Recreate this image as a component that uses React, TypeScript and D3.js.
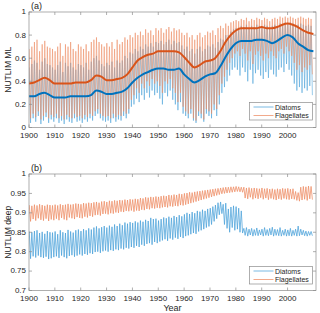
import React from "react";
import * as d3 from "d3";

// ---------- DATA ----------
const startYear = 1900;
const xTicks = [1900, 1910, 1920, 1930, 1940, 1950, 1960, 1970, 1980, 1990, 2000];
const yTicksA = [0, 0.2, 0.4, 0.6, 0.8, 1];
const yTicksB = [0.7, 0.75, 0.8, 0.85, 0.9, 0.95, 1];
const seriesNames = ["Diatoms", "Flagellates"];

// Panel (a): annual max / min of monthly NUTLIM ML (1900..2009)
const diaMaxA = [
  0.52, 0.55, 0.58, 0.56, 0.5, 0.57, 0.6, 0.55, 0.54, 0.52,
  0.5, 0.54, 0.57, 0.48, 0.56, 0.53, 0.56, 0.52, 0.5, 0.55,
  0.54, 0.52, 0.56, 0.5, 0.57, 0.6, 0.62, 0.58, 0.55, 0.53,
  0.56, 0.54, 0.57, 0.52, 0.58, 0.56, 0.58, 0.62, 0.6, 0.65,
  0.64, 0.68, 0.66, 0.7, 0.68, 0.72, 0.7, 0.73, 0.7, 0.74,
  0.73, 0.75, 0.72, 0.74, 0.76, 0.72, 0.75, 0.73, 0.74, 0.71,
  0.68, 0.7, 0.66, 0.68, 0.64, 0.68, 0.7, 0.66, 0.68, 0.71,
  0.7, 0.72, 0.69, 0.74, 0.77, 0.76, 0.8, 0.8, 0.83, 0.85,
  0.86, 0.85, 0.88, 0.87, 0.89, 0.86, 0.88, 0.87, 0.89, 0.88,
  0.87, 0.89, 0.88, 0.86, 0.88, 0.89, 0.88, 0.9, 0.89, 0.91,
  0.9, 0.91, 0.9, 0.88, 0.89, 0.9, 0.89, 0.88, 0.89, 0.88,
];
const diaMinA = [
  0.04, 0.08, 0.05, 0.1, 0.03, 0.06, 0.09, 0.04, 0.07, 0.05,
  0.08, 0.04, 0.06, 0.03, 0.07, 0.05, 0.04, 0.08, 0.05, 0.06,
  0.04, 0.07, 0.05, 0.08, 0.06, 0.1, 0.12, 0.08, 0.06, 0.05,
  0.06, 0.04, 0.08, 0.05, 0.07, 0.06, 0.1, 0.08, 0.12, 0.18,
  0.2, 0.25, 0.22, 0.28, 0.24, 0.3, 0.26, 0.32, 0.28, 0.3,
  0.25, 0.2, 0.3, 0.27, 0.32, 0.24, 0.2, 0.15, 0.22, 0.12,
  0.1, 0.08, 0.12, 0.06, 0.04, 0.1, 0.08, 0.05, 0.12, 0.1,
  0.08, 0.15, 0.1, 0.2, 0.3, 0.35, 0.4, 0.45, 0.5, 0.52,
  0.5, 0.45, 0.52, 0.48, 0.4, 0.5, 0.38, 0.47, 0.5, 0.45,
  0.42, 0.48, 0.43, 0.5, 0.46, 0.44, 0.5, 0.52, 0.48, 0.55,
  0.5, 0.45, 0.38, 0.32, 0.35, 0.3, 0.34, 0.32, 0.36, 0.28,
];
const flagMaxA = [
  0.68, 0.7, 0.74, 0.76, 0.66, 0.72, 0.75, 0.7, 0.69, 0.68,
  0.66, 0.7, 0.73, 0.62, 0.72, 0.7, 0.74, 0.68, 0.66, 0.72,
  0.7, 0.68, 0.72, 0.66, 0.74, 0.76, 0.78, 0.74, 0.72, 0.7,
  0.73, 0.7, 0.74, 0.68, 0.76, 0.72, 0.74, 0.78, 0.76, 0.8,
  0.78, 0.82, 0.8, 0.83, 0.8, 0.85, 0.82, 0.84, 0.8, 0.86,
  0.84, 0.86, 0.82, 0.85, 0.87, 0.83, 0.86, 0.84, 0.85, 0.82,
  0.8, 0.82, 0.78, 0.8, 0.76, 0.8, 0.82, 0.78, 0.8, 0.83,
  0.82, 0.84, 0.8, 0.86, 0.88, 0.86, 0.9, 0.88, 0.91, 0.92,
  0.93, 0.92, 0.94, 0.93, 0.95, 0.92, 0.94, 0.93, 0.95, 0.94,
  0.93, 0.95, 0.94, 0.92, 0.94, 0.95, 0.94, 0.96, 0.95, 0.96,
  0.95, 0.96, 0.95, 0.94, 0.95, 0.96, 0.95, 0.94, 0.95, 0.94,
];
const flagMinA = [
  0.08, 0.12, 0.09, 0.14, 0.07, 0.1, 0.13, 0.08, 0.11, 0.09,
  0.12, 0.08, 0.1, 0.07, 0.11, 0.09, 0.08, 0.12, 0.09, 0.1,
  0.08, 0.11, 0.09, 0.12, 0.1, 0.14, 0.16, 0.12, 0.1, 0.09,
  0.1, 0.08, 0.12, 0.09, 0.11, 0.1, 0.14, 0.12, 0.16, 0.24,
  0.28, 0.34, 0.3, 0.38, 0.34, 0.4, 0.36, 0.42, 0.38, 0.4,
  0.36, 0.3, 0.4, 0.38, 0.42, 0.34, 0.3, 0.22, 0.3, 0.18,
  0.14, 0.12, 0.16, 0.08, 0.06, 0.14, 0.12, 0.07, 0.16, 0.14,
  0.12, 0.2, 0.16, 0.28, 0.38, 0.44, 0.5, 0.56, 0.6, 0.64,
  0.66, 0.62, 0.68, 0.64, 0.58, 0.66, 0.55, 0.63, 0.66, 0.62,
  0.58, 0.64, 0.6, 0.66, 0.62, 0.6, 0.66, 0.68, 0.64, 0.7,
  0.66, 0.62, 0.56, 0.5, 0.54, 0.48, 0.52, 0.5, 0.54, 0.46,
];

// Panel (a): smoothed (running mean) lines
const smoothYears = [
  1900, 1902, 1904, 1906, 1908, 1910, 1912, 1914, 1916, 1918,
  1920, 1922, 1924, 1926, 1928, 1930, 1932, 1934, 1936, 1938,
  1940, 1942, 1944, 1946, 1948, 1950, 1952, 1954, 1956, 1958,
  1960, 1962, 1964, 1966, 1968, 1970, 1972, 1974, 1976, 1978,
  1980, 1982, 1984, 1986, 1988, 1990, 1992, 1994, 1996, 1998,
  2000, 2002, 2004, 2006, 2008, 2010,
];
const diaSmooth = [
  0.27, 0.27, 0.29, 0.3, 0.28, 0.26, 0.26, 0.26, 0.27, 0.27,
  0.27, 0.27, 0.28, 0.32, 0.31, 0.29, 0.29, 0.3, 0.31, 0.34,
  0.39, 0.43, 0.46, 0.48, 0.5, 0.51, 0.51, 0.5, 0.5, 0.51,
  0.46, 0.42, 0.39, 0.41, 0.44, 0.46, 0.47, 0.53, 0.61, 0.68,
  0.73, 0.75, 0.75, 0.75, 0.76, 0.76, 0.75, 0.73, 0.75, 0.78,
  0.8, 0.78, 0.73, 0.7, 0.67, 0.66,
];
const flagSmooth = [
  0.38, 0.39, 0.41, 0.43, 0.41, 0.38, 0.38, 0.38, 0.38, 0.39,
  0.39, 0.39, 0.41, 0.45, 0.44, 0.41, 0.41, 0.42, 0.43, 0.46,
  0.52, 0.58, 0.61, 0.63, 0.64, 0.66, 0.66, 0.66, 0.66, 0.65,
  0.61, 0.56, 0.52, 0.54, 0.57, 0.58, 0.6, 0.66, 0.74, 0.8,
  0.84, 0.86, 0.86, 0.86, 0.86, 0.87, 0.86, 0.86, 0.87, 0.89,
  0.9, 0.89, 0.87, 0.84, 0.82, 0.81,
];

// Panel (b): annual max / min of monthly NUTLIM deep (1900..2009)
const diaMaxB = [
  0.852, 0.85, 0.853, 0.855, 0.848, 0.851, 0.846, 0.853, 0.85, 0.849,
  0.852, 0.845, 0.855, 0.85, 0.848, 0.856, 0.852, 0.849, 0.855, 0.857,
  0.853, 0.858, 0.855, 0.86, 0.857, 0.862, 0.865, 0.86, 0.863, 0.866,
  0.862, 0.867, 0.864, 0.87, 0.866, 0.872, 0.868, 0.875, 0.872, 0.876,
  0.874, 0.878, 0.875, 0.88, 0.877, 0.882, 0.879, 0.887, 0.884, 0.885,
  0.88, 0.884, 0.888, 0.886, 0.89, 0.887, 0.892, 0.889, 0.894, 0.891,
  0.896, 0.9, 0.897, 0.902, 0.899, 0.905, 0.903, 0.908, 0.905, 0.91,
  0.912, 0.916, 0.92, 0.926, 0.928, 0.922, 0.925, 0.91, 0.915, 0.918,
  0.916, 0.912, 0.905, 0.86, 0.862, 0.858, 0.86, 0.857, 0.861, 0.856,
  0.858, 0.862, 0.857, 0.86, 0.863, 0.858, 0.857, 0.862, 0.855, 0.858,
  0.856, 0.86, 0.855, 0.858, 0.866, 0.858, 0.855, 0.853, 0.852, 0.852,
];
const diaMinB = [
  0.782, 0.788, 0.785, 0.79, 0.786, 0.784, 0.787, 0.781, 0.783, 0.786,
  0.788, 0.784, 0.79, 0.786, 0.783, 0.789, 0.791, 0.787, 0.79, 0.793,
  0.79, 0.794, 0.792, 0.796, 0.794, 0.799, 0.8, 0.797, 0.801, 0.803,
  0.8, 0.804, 0.802, 0.806, 0.804, 0.808, 0.806, 0.81, 0.808, 0.812,
  0.81, 0.815, 0.812, 0.818, 0.815, 0.82, 0.822, 0.818, 0.825, 0.822,
  0.826, 0.829, 0.832, 0.828, 0.834, 0.831, 0.836, 0.833, 0.838, 0.835,
  0.84, 0.842, 0.845, 0.848, 0.846, 0.852, 0.855, 0.858, 0.862, 0.865,
  0.87, 0.878, 0.885, 0.895, 0.898, 0.87, 0.86, 0.85, 0.862, 0.855,
  0.858, 0.85, 0.848, 0.842, 0.84, 0.843, 0.84, 0.842, 0.841, 0.843,
  0.84, 0.842, 0.841, 0.843, 0.84, 0.842, 0.841, 0.84, 0.842, 0.84,
  0.841, 0.84, 0.842, 0.84, 0.841, 0.843, 0.841, 0.84, 0.842, 0.841,
];
const flagMaxB = [
  0.92, 0.918, 0.921, 0.919, 0.922, 0.92, 0.918, 0.921, 0.92, 0.919,
  0.921, 0.919, 0.922, 0.92, 0.921, 0.923, 0.921, 0.922, 0.924, 0.923,
  0.922, 0.925, 0.924, 0.926, 0.925, 0.927, 0.928, 0.926, 0.929, 0.93,
  0.928, 0.931, 0.93, 0.932, 0.931, 0.933, 0.932, 0.934, 0.933, 0.935,
  0.934, 0.936, 0.935, 0.938, 0.937, 0.94, 0.939, 0.941, 0.94, 0.942,
  0.941, 0.943, 0.944, 0.943, 0.946, 0.945, 0.947, 0.946, 0.949, 0.948,
  0.95, 0.951, 0.953, 0.952, 0.954, 0.955, 0.956, 0.957, 0.958, 0.959,
  0.96, 0.961, 0.962, 0.963, 0.964, 0.965, 0.966, 0.966, 0.967, 0.967,
  0.968, 0.967, 0.966, 0.966, 0.964, 0.965, 0.963, 0.964, 0.963, 0.962,
  0.964, 0.962, 0.963, 0.961, 0.962, 0.96, 0.962, 0.961, 0.963, 0.962,
  0.963, 0.961, 0.962, 0.955, 0.952, 0.966, 0.968, 0.967, 0.969, 0.968,
];
const flagMinB = [
  0.878, 0.884, 0.88, 0.886, 0.882, 0.88, 0.885, 0.879, 0.883, 0.881,
  0.885, 0.881, 0.887, 0.883, 0.881, 0.888, 0.886, 0.884, 0.889, 0.887,
  0.886, 0.89, 0.888, 0.892, 0.89, 0.894, 0.895, 0.893, 0.897, 0.898,
  0.896, 0.899, 0.898, 0.901, 0.9, 0.903, 0.902, 0.905, 0.904, 0.906,
  0.903, 0.906, 0.905, 0.908, 0.907, 0.91, 0.909, 0.912, 0.911, 0.913,
  0.912, 0.914, 0.915, 0.914, 0.917, 0.916, 0.918, 0.917, 0.92, 0.919,
  0.921, 0.923, 0.925, 0.927, 0.929, 0.931, 0.933, 0.935, 0.937, 0.939,
  0.941, 0.943, 0.945, 0.947, 0.949, 0.95, 0.951, 0.952, 0.953, 0.954,
  0.955, 0.954, 0.953, 0.938, 0.936, 0.94, 0.935, 0.938, 0.936, 0.939,
  0.935, 0.938, 0.934, 0.937, 0.935, 0.933, 0.936, 0.934, 0.937, 0.935,
  0.934, 0.936, 0.935, 0.932, 0.93, 0.933, 0.935, 0.932, 0.936, 0.934,
];

// ---------- STYLE ----------
const BLUE = "#0072BD";
const ORANGE = "#D95319";
const BLUE_LIGHT = "#4DA3DA";
const ORANGE_LIGHT = "#EE8E66";
const AXIS = "#8c8c8c";
const TEXT = "#262626";
const FONT = "'Liberation Sans', Arial, sans-serif";

const W = 320;
const H = 313;
const left = 29;
const right = 316;

const x = d3.scaleLinear().domain([1900, 2011]).range([left, right]);

function zigzag(maxs: number[], mins: number[]) {
  const pts: [number, number][] = [];
  maxs.forEach((mx, i) => {
    const yr = startYear + i;
    pts.push([yr + 0.1, mx]);
    pts.push([yr + 0.6, mins[i]]);
  });
  return pts;
}

type PanelProps = {
  top: number;
  bottom: number;
  domain: [number, number];
  yTicks: number[];
  yFmt: (v: number) => string;
  label: string;
  tag: string;
  showXLabel: boolean;
  raw: { max: number[]; min: number[]; color: string; opacity: number }[];
  smooth?: { vals: number[]; color: string }[];
  legendTop: number;
};

function Panel(p: PanelProps) {
  const y = d3.scaleLinear().domain(p.domain).range([p.bottom, p.top]);
  const line = d3
    .line<[number, number]>()
    .x((d) => x(d[0]))
    .y((d) => y(d[1]));
  const smoothLine = d3
    .line<number>()
    .x((_, i) => x(smoothYears[i]))
    .y((d) => y(d))
    .curve(d3.curveMonotoneX);
  const tl = 3;
  const legX = 249.5;
  const legW = 63;
  const legH = 17.5;
  return (
    <g>
      <defs>
        <clipPath id={"clip" + p.tag}>
          <rect x={left} y={p.top} width={right - left} height={p.bottom - p.top} />
        </clipPath>
      </defs>
      <g clipPath={`url(#clip${p.tag})`}>
        {p.raw.map((r, i) => (
          <path
            key={i}
            d={line(zigzag(r.max, r.min)) || ""}
            fill="none"
            stroke={r.color}
            strokeOpacity={r.opacity}
            strokeWidth={0.95}
          />
        ))}
        {p.smooth &&
          p.smooth.map((s, i) => (
            <path key={i} d={smoothLine(s.vals) || ""} fill="none" stroke={s.color} strokeWidth={2} />
          ))}
      </g>
      {/* box */}
      <rect x={left} y={p.top} width={right - left} height={p.bottom - p.top} fill="none" stroke={AXIS} strokeWidth={0.7} />
      {/* x ticks */}
      {xTicks.map((t) => (
        <g key={t}>
          <line x1={x(t)} x2={x(t)} y1={p.bottom} y2={p.bottom - tl} stroke={AXIS} strokeWidth={0.7} />
          <line x1={x(t)} x2={x(t)} y1={p.top} y2={p.top + tl} stroke={AXIS} strokeWidth={0.7} />
          <text x={x(t)} y={p.bottom + 10.5} fontSize={8} fill={TEXT} textAnchor="middle" fontFamily={FONT}>
            {t}
          </text>
        </g>
      ))}
      {/* y ticks */}
      {p.yTicks.map((t) => (
        <g key={t}>
          <line x1={left} x2={left + tl} y1={y(t)} y2={y(t)} stroke={AXIS} strokeWidth={0.7} />
          <line x1={right} x2={right - tl} y1={y(t)} y2={y(t)} stroke={AXIS} strokeWidth={0.7} />
          <text x={left - 3} y={y(t) + 2.4} fontSize={8} fill={TEXT} textAnchor="end" fontFamily={FONT}>
            {p.yFmt(t)}
          </text>
        </g>
      ))}
      <text
        transform={`translate(11,${(p.top + p.bottom) / 2}) rotate(-90)`}
        fontSize={8.5}
        fill={TEXT}
        textAnchor="middle"
        fontFamily={FONT}
      >
        {p.label}
      </text>
      <text x={31} y={p.top - 3} fontSize={9} fill={TEXT} fontFamily={FONT}>
        {"(" + p.tag + ")"}
      </text>
      {p.showXLabel && (
        <text x={(left + right) / 2} y={p.bottom + 20.5} fontSize={9} fill={TEXT} textAnchor="middle" fontFamily={FONT}>
          Year
        </text>
      )}
      {/* legend */}
      <rect x={legX} y={p.legendTop} width={legW} height={legH} fill="white" stroke={AXIS} strokeWidth={0.7} />
      {seriesNames.map((n, i) => (
        <g key={n}>
          <line
            x1={legX + 4}
            x2={legX + 24}
            y1={p.legendTop + 4.5 + i * 8.5}
            y2={p.legendTop + 4.5 + i * 8.5}
            stroke={i === 0 ? BLUE_LIGHT : ORANGE_LIGHT}
            strokeOpacity={0.75}
            strokeWidth={1}
          />
          <text x={legX + 25.5} y={p.legendTop + 7 + i * 8.5} fontSize={7} fill={TEXT} fontFamily={FONT}>
            {n}
          </text>
        </g>
      ))}
    </g>
  );
}

export default function App() {
  const fmt = (v: number) => d3.format("~g")(v);
  return (
    <svg width={W} height={H} style={{ position: "absolute", left: 0, top: 0, background: "white" }}>
      <Panel
        top={12}
        bottom={127.5}
        domain={[0, 1]}
        yTicks={yTicksA}
        yFmt={fmt}
        label="NUTLIM ML"
        tag="a"
        showXLabel={false}
        raw={[
          { max: diaMaxA, min: diaMinA, color: BLUE_LIGHT, opacity: 0.6 },
          { max: flagMaxA, min: flagMinA, color: ORANGE_LIGHT, opacity: 0.6 },
        ]}
        smooth={[
          { vals: diaSmooth, color: BLUE },
          { vals: flagSmooth, color: ORANGE },
        ]}
        legendTop={102.5}
      />
      <Panel
        top={174}
        bottom={290.5}
        domain={[0.7, 1]}
        yTicks={yTicksB}
        yFmt={fmt}
        label="NUTLIM deep"
        tag="b"
        showXLabel={true}
        raw={[
          { max: diaMaxB, min: diaMinB, color: BLUE_LIGHT, opacity: 0.8 },
          { max: flagMaxB, min: flagMinB, color: ORANGE_LIGHT, opacity: 0.8 },
        ]}
        legendTop={266.5}
      />
    </svg>
  );
}
